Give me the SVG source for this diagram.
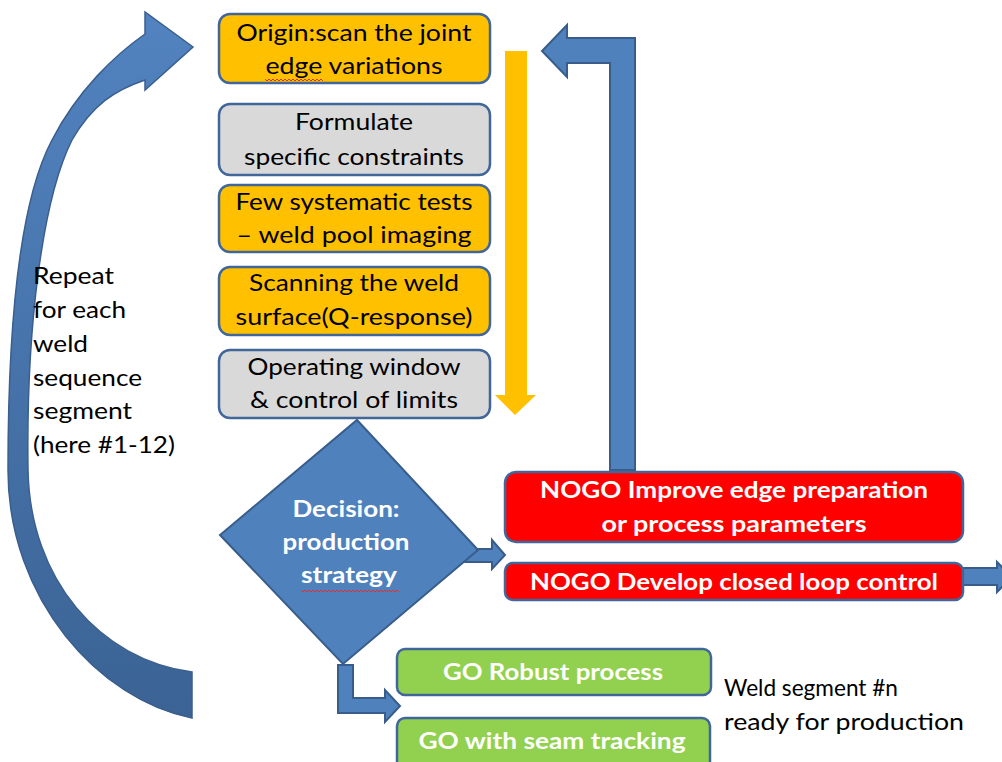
<svg xmlns="http://www.w3.org/2000/svg" width="1002" height="762" viewBox="0 0 1002 762">
<style>
  .t { font-family: Lato, "Liberation Sans", Arial, sans-serif; font-size: 23px; fill: #000; text-anchor: middle; }
  .tl { font-family: Lato, "Liberation Sans", Arial, sans-serif; font-size: 23px; fill: #000; }
  .w { font-family: Lato, "Liberation Sans", Arial, sans-serif; font-size: 22px; font-weight: bold; fill: #fff; text-anchor: middle; }
  .box { stroke: #41679a; stroke-width: 2.5; }
  .yel { fill: #ffc000; }
  .gry { fill: #d9d9d9; }
  .red { fill: #ff0000; }
  .grn { fill: #92d050; }
  .blue { fill: #4f81bd; stroke: #385d8a; stroke-width: 2; stroke-linejoin: miter; }
  .sq { fill: none; stroke: #e03030; stroke-width: 1; }
</style>
<defs>
  <linearGradient id="curveGrad" x1="0" y1="0" x2="0" y2="1">
    <stop offset="0" stop-color="#5283c0"/>
    <stop offset="1" stop-color="#3b6394"/>
  </linearGradient>
</defs>
<rect width="1002" height="762" fill="#ffffff"/>

<g id="connectors">
  <!-- repeat curved arrow -->
  <path d="M145,34 C115,55 78,90 52,140 C20,200 8,320 8,470 C8,600 100,700 192,718 L192,672 C100,660 30,580 28,470 C26,330 42,200 72,140 C92,105 115,90 145,80 L145,90 L193,47 L145,12 Z" fill="url(#curveGrad)" stroke="#3a5f8e" stroke-width="1.5"/>
  <!-- yellow down arrow -->
  <polygon points="505,51 527,51 527,395 536,395 515,415 495,395 505,395" fill="#ffc000"/>
  <!-- feedback bent arrow -->
  <polygon class="blue" points="635,470 635,38 567,38 567,25 542,51 567,77 567,63 610,63 610,470"/>
  <!-- decision to NOGO -->
  <polygon class="blue" points="460,549 492,549 492,540 505,555 492,569 492,562 460,562"/>
  <!-- NOGO closed loop out -->
  <polygon class="blue" points="963,568 997,568 997,562 1012,577 997,592 997,585 963,585"/>
</g>

<g id="n1"><rect class="box yel" x="219" y="14" width="271" height="69" rx="11"/>
  <text class="t" x="354" y="41" textLength="235" lengthAdjust="spacingAndGlyphs">Origin:scan the joint</text>
  <text class="t" x="354" y="74" textLength="177" lengthAdjust="spacingAndGlyphs">edge variations</text>
  <path class="sq" d="M265,79 l2,2 l2,-2 l2,2 l2,-2 l2,2 l2,-2 l2,2 l2,-2 l2,2 l2,-2 l2,2 l2,-2 l2,2 l2,-2 l2,2 l2,-2 l2,2 l2,-2 l2,2 l2,-2 l2,2 l2,-2 l2,2 l2,-2 l2,2 l2,-2 l2,2 l2,-2 l2,2"/>
</g>
<g id="n2"><rect class="box gry" x="219" y="104" width="271" height="71" rx="11"/>
  <text class="t" x="354" y="130" textLength="118" lengthAdjust="spacingAndGlyphs">Formulate</text>
  <text class="t" x="354" y="165" textLength="220" lengthAdjust="spacingAndGlyphs">specific constraints</text>
</g>
<g id="n3"><rect class="box yel" x="219" y="185" width="271" height="67" rx="11"/>
  <text class="t" x="354" y="210" textLength="237" lengthAdjust="spacingAndGlyphs">Few systematic tests</text>
  <text class="t" x="354" y="243" textLength="235" lengthAdjust="spacingAndGlyphs">– weld pool imaging</text>
</g>
<g id="n4"><rect class="box yel" x="219" y="267" width="271" height="68" rx="11"/>
  <text class="t" x="354" y="291" textLength="210" lengthAdjust="spacingAndGlyphs">Scanning the weld</text>
  <text class="t" x="354" y="325" textLength="237" lengthAdjust="spacingAndGlyphs">surface(Q-response)</text>
</g>
<g id="n5"><rect class="box gry" x="219" y="350" width="271" height="68" rx="11"/>
  <text class="t" x="354" y="375" textLength="213" lengthAdjust="spacingAndGlyphs">Operating window</text>
  <text class="t" x="354" y="408" textLength="208" lengthAdjust="spacingAndGlyphs">&amp; control of limits</text>
</g>

<g id="decision">
  <polygon class="blue" points="357,420 478,550 343,664 220,535"/>
  <text class="w" x="346" y="517" textLength="107" lengthAdjust="spacingAndGlyphs">Decision:</text>
  <text class="w" x="346" y="550" textLength="127" lengthAdjust="spacingAndGlyphs">production</text>
  <text class="w" x="349" y="583" textLength="96" lengthAdjust="spacingAndGlyphs">strategy</text>
  <path class="sq" d="M301,590 l2,2 l2,-2 l2,2 l2,-2 l2,2 l2,-2 l2,2 l2,-2 l2,2 l2,-2 l2,2 l2,-2 l2,2 l2,-2 l2,2 l2,-2 l2,2 l2,-2 l2,2 l2,-2 l2,2 l2,-2 l2,2 l2,-2 l2,2 l2,-2 l2,2 l2,-2 l2,2 l2,-2 l2,2 l2,-2 l2,2 l2,-2 l2,2 l2,-2 l2,2 l2,-2 l2,2 l2,-2 l2,2 l2,-2 l2,2 l2,-2 l2,2 l2,-2 l2,2 l2,-2 l2,2"/>
</g>

<g id="go-arrow">
  <polygon class="blue" points="338,665 353,665 353,698 385,698 385,690 400,706 385,722 385,713 338,713"/>
</g>

<g id="nogo1"><rect class="box red" x="505" y="472" width="458" height="70" rx="11"/>
  <text class="w" x="734" y="498" textLength="388" lengthAdjust="spacingAndGlyphs">NOGO Improve edge preparation</text>
  <text class="w" x="734" y="532" textLength="265" lengthAdjust="spacingAndGlyphs">or process parameters</text>
</g>
<g id="nogo2"><rect class="box red" x="505" y="563" width="458" height="37" rx="8"/>
  <text class="w" x="734" y="590" textLength="408" lengthAdjust="spacingAndGlyphs">NOGO Develop closed loop control</text>
</g>

<g id="go1"><rect class="box grn" x="397" y="649" width="314" height="46" rx="8"/>
  <text class="w" x="553" y="680" textLength="220" lengthAdjust="spacingAndGlyphs">GO Robust process</text>
</g>
<g id="go2"><rect class="box grn" x="397" y="718" width="313" height="52" rx="8"/>
  <text class="w" x="552" y="749" textLength="267" lengthAdjust="spacingAndGlyphs">GO with seam tracking</text>
</g>

<g id="repeat-label">
  <text class="tl" x="33" y="284" textLength="81" lengthAdjust="spacingAndGlyphs">Repeat</text>
  <text class="tl" x="33" y="318" textLength="93" lengthAdjust="spacingAndGlyphs">for each</text>
  <text class="tl" x="33" y="352" textLength="55" lengthAdjust="spacingAndGlyphs">weld</text>
  <text class="tl" x="33" y="386" textLength="109" lengthAdjust="spacingAndGlyphs">sequence</text>
  <text class="tl" x="33" y="419" textLength="99" lengthAdjust="spacingAndGlyphs">segment</text>
  <text class="tl" x="33" y="453" textLength="142" lengthAdjust="spacingAndGlyphs">(here #1-12)</text>
</g>
<g id="ready-label">
  <text class="tl" x="724" y="696" textLength="174" lengthAdjust="spacingAndGlyphs">Weld segment #n</text>
  <text class="tl" x="724" y="730" textLength="240" lengthAdjust="spacingAndGlyphs">ready for production</text>
</g>
</svg>
